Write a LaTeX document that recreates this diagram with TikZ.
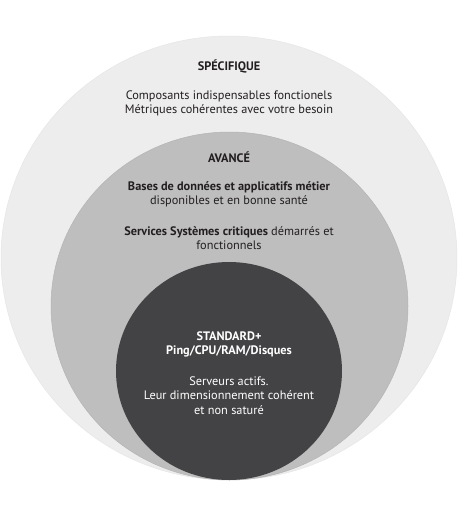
\documentclass[tikz,border=0pt]{standalone}
\usepackage{fontspec}
\setmainfont{PT Sans}
\definecolor{outerfill}{HTML}{EDEDED}
\definecolor{outeredge}{HTML}{E6E6E6}
\definecolor{midfill}{HTML}{BEBEBE}
\definecolor{midedge}{HTML}{B4B4B4}
\definecolor{innerfill}{HTML}{434345}
\definecolor{txtdark}{HTML}{231F20}
\tikzset{
  lvl/.style={font=\fontsize{12.3}{14.2}\selectfont, align=center, inner sep=0pt, text=txtdark},
  lvlhead/.style={lvl, font=\fontsize{12.3}{14.2}\selectfont\bfseries},
  lvlwhite/.style={lvl, text=white},
}
\begin{document}
\begin{tikzpicture}[x=1pt,y=-1pt]
\useasboundingbox (0,0) rectangle (458,525);
\fill[white] (0,0) rectangle (458,525);
% rings
\coordinate (co) at (229,258);
\coordinate (cm) at (229.5,306);
\coordinate (ci) at (229,371);
\path[fill=outerfill, draw=outeredge, line width=0.5pt] (co) ellipse [x radius=228pt, y radius=222pt];
\path[fill=midfill, draw=midedge, line width=0.5pt] (cm) ellipse [x radius=178.5pt, y radius=174pt];
\path[fill=innerfill] (ci) ellipse [x radius=113pt, y radius=109pt];
% texts
\node[lvlhead] (spec) at (229,66) {SPÉCIFIQUE};
\node[lvl] (specdesc) at (229,103.5) {Composants indispensables fonctionels\\Métriques cohérentes avec votre besoin};
\node[lvlhead] (avance) at (229,157) {AVANCÉ};
\node[lvl] (bases) at (229,194) {\textbf{Bases de données et applicatifs métier}\\disponibles et en bonne santé};
\node[lvl] (services) at (229,238.5) {\textbf{Services Systèmes critiques} démarrés et\\fonctionnels};
\node[lvlwhite, font=\fontsize{12.3}{14.2}\selectfont\bfseries] (standard) at (229,344.5) {STANDARD+\\Ping/CPU/RAM/Disques};
\node[lvlwhite] (serveurs) at (229,395.5) {Serveurs actifs.\\Leur dimensionnement cohérent\\et non saturé};
\end{tikzpicture}
\end{document}
